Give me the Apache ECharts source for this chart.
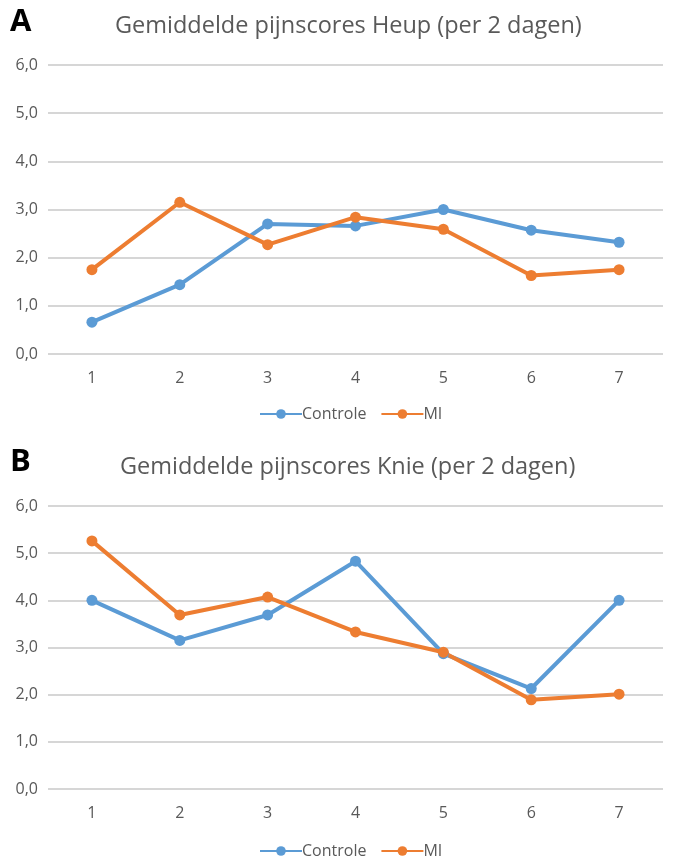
<!DOCTYPE html>
<html>
<head>
<meta charset="utf-8">
<script src="https://cdn.jsdelivr.net/npm/echarts@6/dist/echarts.min.js"></script>
<style>
  html, body { margin: 0; padding: 0; background: #fff; }
  #chart { width: 675px; height: 857px; }
</style>
</head>
<body>
<div id="chart"></div>
<script>
// Days (per 2 days)
var categories = ['1', '2', '3', '4', '5', '6', '7'];

// Hip pain scores
var heupControle = [0.66, 1.44, 2.70, 2.66, 3.00, 2.57, 2.32];
var heupMI       = [1.75, 3.15, 2.27, 2.84, 2.59, 1.63, 1.75];

// Knee pain scores
var knieControle = [4.00, 3.15, 3.69, 4.83, 2.87, 2.13, 4.00];
var knieMI       = [5.26, 3.69, 4.07, 3.33, 2.90, 1.89, 2.01];

var seriesNames = ['Controle', 'MI'];
var titles = ['Gemiddelde pijnscores Heup (per 2 dagen)', 'Gemiddelde pijnscores Knie (per 2 dagen)'];
var panelLetters = ['A', 'B'];

var FONT = '"Open Sans", "Liberation Sans", sans-serif';
var BLUE = '#5B9BD5';
var ORANGE = '#ED7D31';
var TEXT = '#595959';

var chart = echarts.init(document.getElementById('chart'), null, { renderer: 'canvas' });

function yAxis(gridIndex) {
  return {
    type: 'value', gridIndex: gridIndex, min: 0, max: 6, interval: 1,
    axisLine: { show: false }, axisTick: { show: false },
    axisLabel: {
      color: TEXT, fontFamily: FONT, fontSize: 16, margin: 10,
      formatter: function (v) { return v.toFixed(1).replace('.', ','); }
    },
    splitLine: { lineStyle: { color: '#C9C9C9', width: 1.5 } }
  };
}
function xAxis(gridIndex) {
  return {
    type: 'category', gridIndex: gridIndex, data: categories, boundaryGap: true,
    axisLine: { show: false }, axisTick: { show: false },
    axisLabel: { color: TEXT, fontFamily: FONT, fontSize: 16, margin: 16 }
  };
}
function lineSeries(name, data, color, idx) {
  return {
    name: name, type: 'line', data: data, xAxisIndex: idx, yAxisIndex: idx,
    color: color, symbol: 'circle', symbolSize: 11,
    lineStyle: { width: 4, color: color },
    itemStyle: { color: color },
    animation: false
  };
}
function legend(top) {
  return {
    data: seriesNames, top: top, left: 254,
    itemWidth: 42, itemHeight: 12, itemGap: 14,
    textStyle: { color: TEXT, fontFamily: FONT, fontSize: 16, padding: [0, 0, 0, -5] }
  };
}
function title(text, left, top) {
  return {
    text: text, left: left, top: top,
    textStyle: { color: TEXT, fontFamily: FONT, fontSize: 23.5, fontWeight: 'normal' }
  };
}
function letter(text, top) {
  return {
    text: text, left: 5, top: top,
    textStyle: { color: '#000', fontFamily: FONT, fontSize: 31, fontWeight: 'bold' }
  };
}

chart.setOption({
  backgroundColor: '#fff',
  title: [
    title(titles[0], 110, 9),
    title(titles[1], 115, 450),
    letter(panelLetters[0], 2),
    letter(panelLetters[1], 442)
  ],
  legend: [legend(401), legend(838)],
  grid: [
    { left: 48, right: 12, top: 65, height: 289, containLabel: false },
    { left: 48, right: 12, top: 506, height: 283, containLabel: false }
  ],
  xAxis: [xAxis(0), xAxis(1)],
  yAxis: [yAxis(0), yAxis(1)],
  series: [
    lineSeries(seriesNames[0], heupControle, BLUE, 0),
    lineSeries(seriesNames[1], heupMI, ORANGE, 0),
    lineSeries(seriesNames[0], knieControle, BLUE, 1),
    lineSeries(seriesNames[1], knieMI, ORANGE, 1)
  ]
});
</script>
</body>
</html>
